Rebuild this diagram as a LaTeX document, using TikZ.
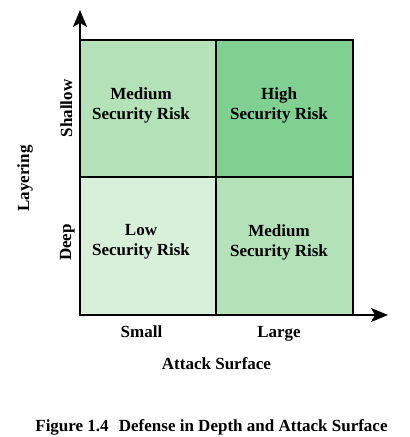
\documentclass[tikz,border=0pt]{standalone}
\usepackage{fontspec}
\setmainfont{Liberation Serif}
\usetikzlibrary{arrows.meta}
\definecolor{cmed}{HTML}{B3E2B8}
\definecolor{chigh}{HTML}{80D091}
\definecolor{clow}{HTML}{D8F0DA}
\tikzset{
  cell/.style={draw=black, line width=1.8pt},
  celltext/.style={font=\bfseries\fontsize{17}{20}\selectfont, align=center, inner sep=0pt},
  axis/.style={line width=1.8pt, -{Stealth[length=17pt,width=14pt,inset=4pt]}},
  lab/.style={font=\bfseries\fontsize{17}{20}\selectfont, inner sep=0pt, anchor=base},
}
\begin{document}
\begin{tikzpicture}[x=1pt,y=-1pt]
\useasboundingbox (0,0) rectangle (410,437);
% cells
\filldraw[cell, fill=cmed] (80,40) rectangle (216,177);
\filldraw[cell, fill=chigh] (216,40) rectangle (353,177);
\filldraw[cell, fill=clow] (80,177) rectangle (216,315);
\filldraw[cell, fill=cmed] (216,177) rectangle (353,315);
\node[celltext] (tl) at (141,105) {Medium\\Security Risk};
\node[celltext] (tr) at (279,105) {High\\Security Risk};
\node[celltext] (bl) at (141,242) {Low\\Security Risk};
\node[celltext] (br) at (279,242) {Medium\\Security Risk};
% axes
\coordinate (o) at (80,315);
\coordinate (ytip) at (80,10);
\coordinate (xtip) at (388,315);
\draw[axis] (o) -- (ytip);
\draw[axis] (o) -- (xtip);
% labels
\node[lab, rotate=90] (shallow) at (72,108.5) {Shallow};
\node[lab, rotate=90] (deep) at (71,242.5) {Deep};
\node[lab, rotate=90] (layering) at (29,178.5) {Layering};
\node[lab] (small) at (141.5,337) {Small};
\node[lab] (large) at (279,337) {Large};
\node[lab] (attack) at (216.5,369) {Attack Surface};
\node[lab] (caption) at (211.5,431) {Figure 1.4\hspace{0.6em}Defense in Depth and Attack Surface};
\end{tikzpicture}
\end{document}
